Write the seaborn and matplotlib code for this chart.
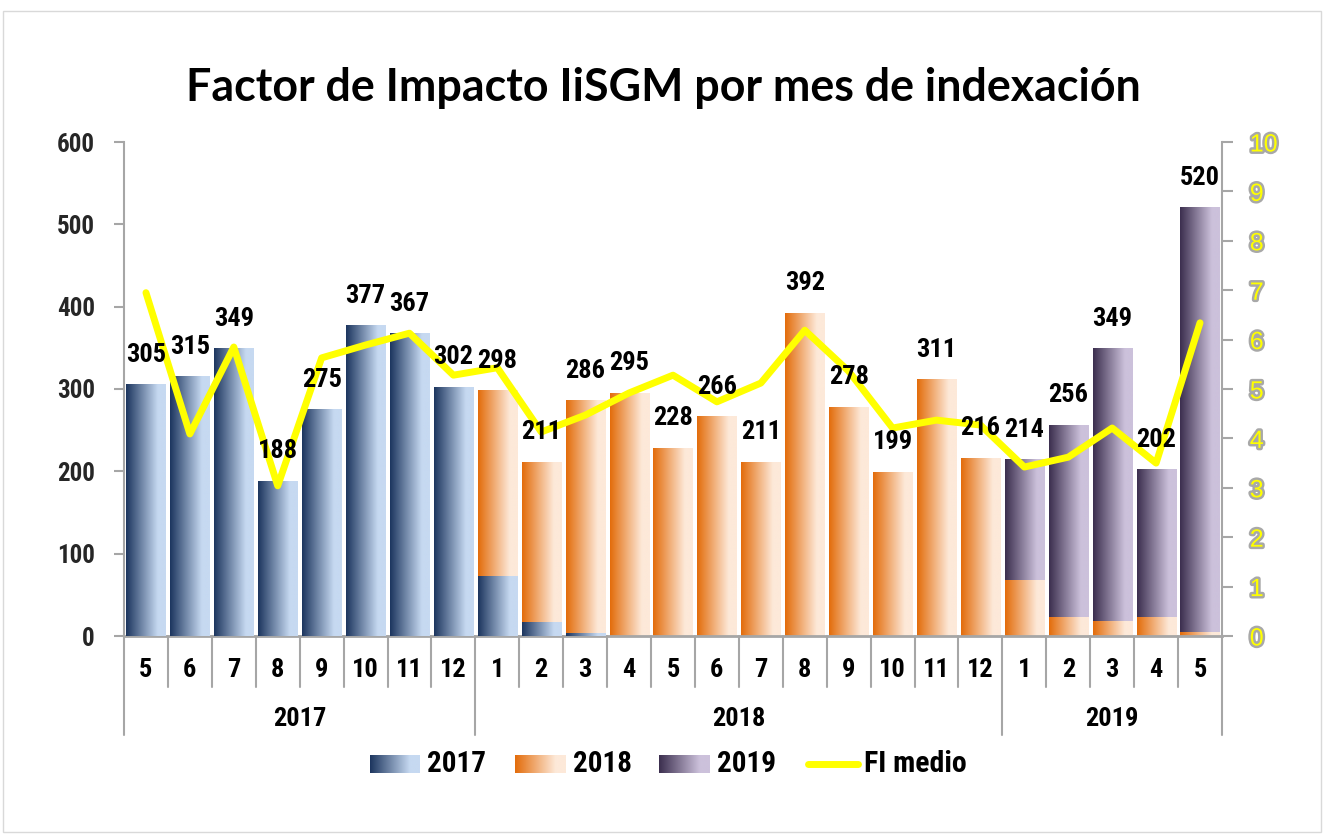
import numpy as np
import pandas as pd
import matplotlib
matplotlib.use("Agg")
import matplotlib.pyplot as plt
import seaborn as sns
from matplotlib import font_manager as fm
from matplotlib.colors import LinearSegmentedColormap
import matplotlib.patheffects as pe
import matplotlib.transforms as mtransforms

# ---------------- data ----------------
years = ["2017"] * 8 + ["2018"] * 12 + ["2019"] * 5
months = [5, 6, 7, 8, 9, 10, 11, 12,
          1, 2, 3, 4, 5, 6, 7, 8, 9, 10, 11, 12,
          1, 2, 3, 4, 5]
v2017 = [305, 315, 349, 188, 275, 377, 367, 302,
         72, 16, 3, 0, 0, 0, 0, 0, 0, 0, 0, 0,
         0, 0, 0, 0, 0]
v2018 = [0, 0, 0, 0, 0, 0, 0, 0,
         226, 195, 283, 295, 228, 266, 211, 392, 278, 199, 311, 216,
         67, 23, 18, 23, 4]
v2019 = [0] * 20 + [147, 233, 331, 179, 516]
totals = [305, 315, 349, 188, 275, 377, 367, 302,
          298, 211, 286, 295, 228, 266, 211, 392, 278, 199, 311, 216,
          214, 256, 349, 202, 520]
fi_medio = [6.95, 4.09, 5.85, 3.04, 5.63, 5.89, 6.13, 5.28,
            5.43, 4.13, 4.47, 4.92, 5.28, 4.74, 5.12, 6.19, 5.36, 4.21, 4.37, 4.27,
            3.42, 3.62, 4.21, 3.50, 6.34]
series_names = ["2017", "2018", "2019", "FI medio"]
title = "Factor de Impacto IiSGM por mes de indexación"

# ---------------- fonts ----------------
names = {f.name for f in fm.fontManager.ttflist}
if "Liberation Sans Narrow" in names:
    NARROW, SCALE = "Liberation Sans Narrow", 1.0
elif "Roboto Condensed" in names:
    NARROW, SCALE = "Roboto Condensed", 1.0
else:
    NARROW, SCALE = "Liberation Sans", 0.92
TITLE_FONT = "Lato" if "Lato" in names else "DejaVu Sans"

sns.set_theme(style="white")
plt.rcParams["font.family"] = [NARROW, "DejaVu Sans"]

W, H = 1326, 834
fig = plt.figure(figsize=(W / 100, H / 100), dpi=100)
fig.patch.set_facecolor("white")

def px2fig(x0, y0, x1, y1):
    return [x0 / W, 1 - y1 / H, (x1 - x0) / W, (y1 - y0) / H]

ax = fig.add_axes(px2fig(124, 142, 1222, 636))
ax.set_facecolor("none")

grad_colors = {
    "2017": ("#1c355e", "#c6d9f1"),
    "2018": ("#e36c0a", "#fde9d9"),
    "2019": ("#3b2e4e", "#ccc1db"),
}

def gradient_cmap(key):
    dark, light = grad_colors[key]
    return LinearSegmentedColormap.from_list(key, [(0, dark), (0.8, light), (1, light)])

grad = np.linspace(0, 1, 256).reshape(1, -1)

cats = [f"{y}-{m}" for y, m in zip(years, months)]
df = pd.DataFrame({"cat": cats, "v2017": v2017, "v2018": v2018, "v2019": v2019})
df["top2017"] = df["v2017"]
df["top2018"] = np.where(df["v2018"] > 0, df["v2017"] + df["v2018"], 0)
df["top2019"] = np.where(df["v2019"] > 0, df["v2017"] + df["v2018"] + df["v2019"], 0)

layers = [("2019", "top2019", 1), ("2018", "top2018", 2), ("2017", "top2017", 3)]
for key, col, z in layers:
    n0 = len(ax.patches)
    sns.barplot(data=df, x="cat", y=col, order=cats, ax=ax, width=0.89,
                color=grad_colors[key][1], saturation=1, errorbar=None, zorder=z)
    cmap = gradient_cmap(key)
    for p in ax.patches[n0:]:
        h = p.get_height()
        if h <= 0:
            p.set_visible(False)
            continue
        x0, w, y0 = p.get_x(), p.get_width(), p.get_y()
        ax.imshow(grad, cmap=cmap, extent=[x0, x0 + w, y0, y0 + h], aspect="auto",
                  origin="lower", interpolation="bilinear", zorder=z)
        p.set_facecolor("none")
        p.set_linewidth(0)

ax.set_xlim(-0.5, len(cats) - 0.5)
ax.set_ylim(0, 600)
ax.set_yticks(range(0, 601, 100))
ax.set_xticks([])
ax.set_xlabel("")
ax.set_ylabel("")
gray = "#a6a6a6"
for s in ["top", "right"]:
    ax.spines[s].set_visible(False)
ax.spines["left"].set_color(gray)
ax.spines["left"].set_linewidth(1.5)
ax.spines["bottom"].set_color(gray)
ax.spines["bottom"].set_linewidth(2)
ax.tick_params(axis="y", direction="out", length=7, width=1.5, color=gray, pad=14,
               labelsize=18 * SCALE, left=True)
for lab in ax.get_yticklabels():
    lab.set_fontweight("bold")
    lab.set_fontfamily([NARROW, "DejaVu Sans"])

# category axis: months, years, separators
trans = mtransforms.blended_transform_factory(ax.transData, ax.transAxes)
axh = 636 - 142
for i in range(len(cats) + 1):
    xb = i - 0.5
    is_year = i in (0, 8, 20, len(cats))
    ln = 99 / axh if is_year else 51 / axh
    ax.plot([xb, xb], [0, -ln], transform=trans, color=gray, lw=1.5,
            clip_on=False, zorder=5)
for i, m in enumerate(months):
    ax.text(i, -34 / axh, str(m), transform=trans, ha="center", va="center",
            fontsize=19 * SCALE, fontweight="bold", color="black")
year_spans = {}
for i, y in enumerate(years):
    year_spans.setdefault(y, []).append(i)
for y, idx in year_spans.items():
    ax.text((idx[0] + idx[-1]) / 2, -83 / axh, y, transform=trans, ha="center",
            va="center", fontsize=19 * SCALE, fontweight="bold", color="black")

# secondary axis with the line
ax2 = ax.twinx()
sns.lineplot(x=np.arange(len(cats)), y=fi_medio, ax=ax2, color="#ffff00", lw=5,
             sort=False, zorder=10)
ax2.set_ylim(0, 10)
ax2.set_xlim(-0.5, len(cats) - 0.5)
ax2.set_yticks(range(0, 11))
ax2.set_ylabel("")
for s in ["top", "left", "bottom"]:
    ax2.spines[s].set_visible(False)
ax2.spines["right"].set_color(gray)
ax2.spines["right"].set_linewidth(1.5)
ax2.tick_params(axis="y", direction="out", length=8, width=1.5, color=gray, pad=12,
                labelsize=18, right=True, labelcolor="#ffff00")
for lab in ax2.get_yticklabels():
    lab.set_fontfamily(["Liberation Sans", "DejaVu Sans"])
    lab.set_path_effects([pe.withStroke(linewidth=3.5, foreground="#a8a8a8")])

# data labels
for i, t in enumerate(totals):
    ax2.annotate(str(t), xy=(i, t), xycoords=ax.transData, xytext=(0, 21.5),
                 textcoords="offset points", ha="center", va="center",
                 fontsize=19 * SCALE, fontweight="bold", color="black", zorder=20)

# title
fig.text(0.5, 1 - 88 / H, title, ha="center", va="center", fontsize=32.2,
         fontweight="bold", family=[TITLE_FONT, "DejaVu Sans"], color="black")

# legend
leg = fig.add_axes([0, 0, 1, 1], zorder=30)
leg.set_xlim(0, W)
leg.set_ylim(H, 0)
leg.axis("off")
leg.patch.set_alpha(0)
ly = 764
items = [("2017", 370, 420), ("2018", 515, 566), ("2019", 659, 710)]
for name, x0, x1 in items:
    leg.imshow(grad, cmap=gradient_cmap(name), extent=[x0, x1, ly + 9, ly - 9],
               aspect="auto", interpolation="bilinear")
    leg.text(x1 + 7, ly, name, ha="left", va="center", fontsize=21 * SCALE,
             fontweight="bold", color="black")
leg.plot([808, 858], [ly, ly], color="#ffff00", lw=5, solid_capstyle="round")
leg.text(864, ly, series_names[3], ha="left", va="center", fontsize=21.5 * SCALE,
         fontweight="bold", color="black")
leg.set_xlim(0, W)
leg.set_ylim(H, 0)

# outer border
fig.add_artist(plt.Rectangle((0.002, 0.002), 0.994, 0.985, transform=fig.transFigure,
                             fill=False, edgecolor="#d9d9d9", lw=1))

fig.savefig("out.png", dpi=100, facecolor="white")
